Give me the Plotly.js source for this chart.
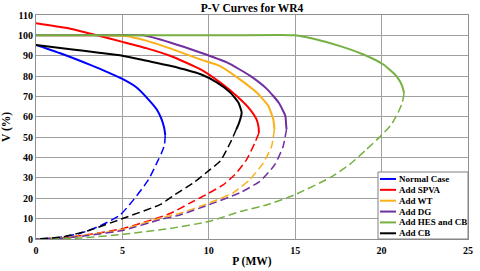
<!DOCTYPE html>
<html>
<head>
<meta charset="utf-8">
<script src="https://cdn.plot.ly/plotly-3.0.1.min.js"></script>
<style>html,body{margin:0;padding:0;background:#fff;}#chart{width:480px;height:271px;}</style>
</head>
<body>
<div id="chart"></div>
<script>
// Series names and colours
const seriesNames = ["Normal Case", "Add SPVA", "Add WT", "Add DG", "Add HES and CB", "Add CB"];
const seriesColors = ["#0000ff", "#ff0000", "#fbb018", "#7030a0", "#76b041", "#000000"];

// Upper (stable, solid) branches: P (MW), V (%)
const normalUpperP = [0, 1.6, 3.14, 4.1, 5, 5.84, 6.5, 6.98, 7.27, 7.42, 7.48];
const normalUpperV = [95.3, 90.6, 85.5, 82.1, 78.6, 74.3, 68.6, 63.7, 58.8, 54.5, 51];
const spvaUpperP = [0, 1.8, 3.53, 5, 6.42, 7.76, 9.5, 10.65, 11.6, 12.37, 12.75, 12.88, 12.9];
const spvaUpperV = [106, 103.6, 100, 96.8, 93.6, 90, 83.4, 76.9, 70.3, 63.8, 59, 55, 52];
const wtUpperP = [0, 2, 4, 5.2, 6.42, 7.76, 9.5, 10.65, 11.8, 12.77, 13.44, 13.73, 13.8];
const wtUpperV = [100, 100, 100, 99.7, 97.3, 93.6, 88.2, 84.9, 78.4, 71.9, 65.4, 58.8, 54];
const dgUpperP = [0, 3, 6.2, 7.76, 9.5, 11.05, 12.4, 13.37, 14.04, 14.43, 14.48, 14.5];
const dgUpperV = [100, 100, 100, 96.5, 91.6, 86.7, 80.1, 73.6, 67, 60.4, 55.5, 54];
const hesUpperP = [0, 5, 10, 14.1, 15, 16.06, 17.6, 18.95, 20.1, 20.87, 21.2, 21.3];
const hesUpperV = [100, 100, 100, 100.2, 100, 98.3, 94.7, 90.6, 85.7, 79.9, 75, 71.5];
const cbUpperP = [0, 1.99, 3.53, 5, 6.42, 7.76, 9.5, 10.46, 11.23, 11.71, 11.9, 11.76, 11.6];
const cbUpperV = [95.3, 93.2, 91.6, 90, 87.5, 85.1, 81, 76.9, 72, 67, 62.1, 57.2, 54];

// Lower (unstable, dashed) branches
const normalLowerP = [7.48, 7.43, 7.25, 7.08, 6.5, 5.64, 4.87, 3.82, 2.57, 1.22, 0];
const normalLowerV = [51, 46, 42, 38.9, 29, 19.2, 11.8, 6.9, 2.8, 0.6, 0];
const spvaLowerP = [12.9, 12.66, 12.18, 11.5, 10.83, 10, 8.9, 7.76, 5.06, 3.14, 1.5, 0];
const spvaLowerV = [52, 47.1, 38.9, 31.5, 26.6, 22.5, 17.6, 12.5, 5.2, 2.3, 0.5, 0];
const wtLowerP = [13.8, 13.63, 13.15, 12.37, 11.41, 10, 8.33, 7.18, 5.06, 3, 1.5, 0];
const wtLowerV = [54, 45.4, 37.3, 29.2, 22.7, 17.6, 12.6, 10.2, 4.8, 2, 0.5, 0];
const dgLowerP = [14.5, 14.3, 13.82, 12.95, 11.8, 10, 8.33, 7.18, 5.06, 3, 1.5, 0];
const dgLowerV = [54, 45.4, 36.5, 28.3, 22.7, 16.8, 11.8, 9.5, 4.3, 1.7, 0.4, 0];
const hesLowerP = [21.3, 21.2, 20.95, 20.55, 20.0, 19.1, 18.14, 16.99, 14.97, 13.37, 11.82, 10, 7.76, 5.06, 2.6, 0];
const hesLowerV = [71.5, 67, 62, 56, 51, 43.8, 36.5, 30, 21.7, 16.8, 13.5, 8.6, 5.2, 2.3, 0.5, 0];
const cbLowerP = [11.6, 11.25, 10.67, 10, 9.13, 7.9, 7.21, 5.06, 3.14, 1.6, 0];
const cbLowerV = [54, 47.4, 38.3, 33.6, 27.7, 21, 17, 10.2, 4.4, 1.1, 0];

// Axis ticks
const xTicks = [0, 5, 10, 15, 20, 25];
const yTicks = [0, 10, 20, 30, 40, 50, 60, 70, 80, 90, 100, 110];

const uppers = [[normalUpperP, normalUpperV], [spvaUpperP, spvaUpperV], [wtUpperP, wtUpperV], [dgUpperP, dgUpperV], [hesUpperP, hesUpperV], [cbUpperP, cbUpperV]];
const lowers = [[normalLowerP, normalLowerV], [spvaLowerP, spvaLowerV], [wtLowerP, wtLowerV], [dgLowerP, dgLowerV], [hesLowerP, hesLowerV], [cbLowerP, cbLowerV]];

const serif = "Liberation Serif, Times New Roman, serif";
const traces = [];
seriesNames.forEach((name, i) => {
  traces.push({x: lowers[i][0], y: lowers[i][1], mode: "lines", name: name, showlegend: false,
    line: {color: seriesColors[i], width: 1.5, dash: "8px,4px", shape: "spline", smoothing: 0.5}, hoverinfo: "skip"});
});
seriesNames.forEach((name, i) => {
  traces.push({x: uppers[i][0], y: uppers[i][1], mode: "lines", name: name, showlegend: false,
    line: {color: seriesColors[i], width: 2, shape: "spline", smoothing: 0.5}, hoverinfo: "skip"});
});

// Manual compact legend (paper coordinates)
const legX0 = 0.7917, legX1 = 1.0, legY0 = 0, legY1 = 0.299;
const lineX0 = 0.7963, lineX1 = 0.8333, textX = 0.8356;
const shapes = [{type: "rect", xref: "paper", yref: "paper", x0: legX0, x1: legX1, y0: legY0, y1: legY1,
  fillcolor: "#ffffff", line: {color: "#808080", width: 1}, layer: "above"}];
const annotations = [];
seriesNames.forEach((name, i) => {
  const yc = legY1 - 0.031 - i * 0.0485;
  shapes.push({type: "line", xref: "paper", yref: "paper", x0: lineX0, x1: lineX1, y0: yc, y1: yc,
    line: {color: seriesColors[i], width: 2}, layer: "above"});
  annotations.push({xref: "paper", yref: "paper", x: textX, y: yc, xanchor: "left", yanchor: "middle",
    text: name, showarrow: false, font: {family: serif, size: 9, color: "#000", weight: "bold"}});
});

const layout = {
  width: 480, height: 271,
  margin: {l: 36, r: 12, t: 15, b: 32},
  paper_bgcolor: "#fff", plot_bgcolor: "#fff",
  showlegend: false,
  font: {family: serif, color: "#000"},
  title: {text: "P-V Curves for WR4", x: 0.525, xanchor: "center", y: 0.972, yanchor: "middle",
    font: {family: serif, size: 11.5, color: "#000", weight: "bold"}},
  xaxis: {range: [0, 25], tickvals: xTicks, ticktext: xTicks.map(String), showgrid: true,
    gridcolor: "#a0a0a0", gridwidth: 1, showline: true, linecolor: "#909090", linewidth: 1, mirror: true,
    zeroline: false, ticks: "", ticklabelstandoff: 2,
    tickfont: {family: serif, size: 10, color: "#000", weight: "bold"},
    title: {text: "P (MW)", standoff: 1, font: {family: serif, size: 11.5, color: "#000", weight: "bold"}}},
  yaxis: {range: [0, 110], tickvals: yTicks, ticktext: yTicks.map(String), showgrid: true,
    gridcolor: "#a0a0a0", gridwidth: 1, showline: true, linecolor: "#909090", linewidth: 1, mirror: true,
    zeroline: false, ticks: "",
    tickfont: {family: serif, size: 10, color: "#000", weight: "bold"},
    title: {text: "V (%)", standoff: 6, font: {family: serif, size: 11.5, color: "#000", weight: "bold"}}},
  shapes: shapes,
  annotations: annotations
};

Plotly.newPlot("chart", traces, layout, {staticPlot: true, displayModeBar: false});
</script>
</body>
</html>
